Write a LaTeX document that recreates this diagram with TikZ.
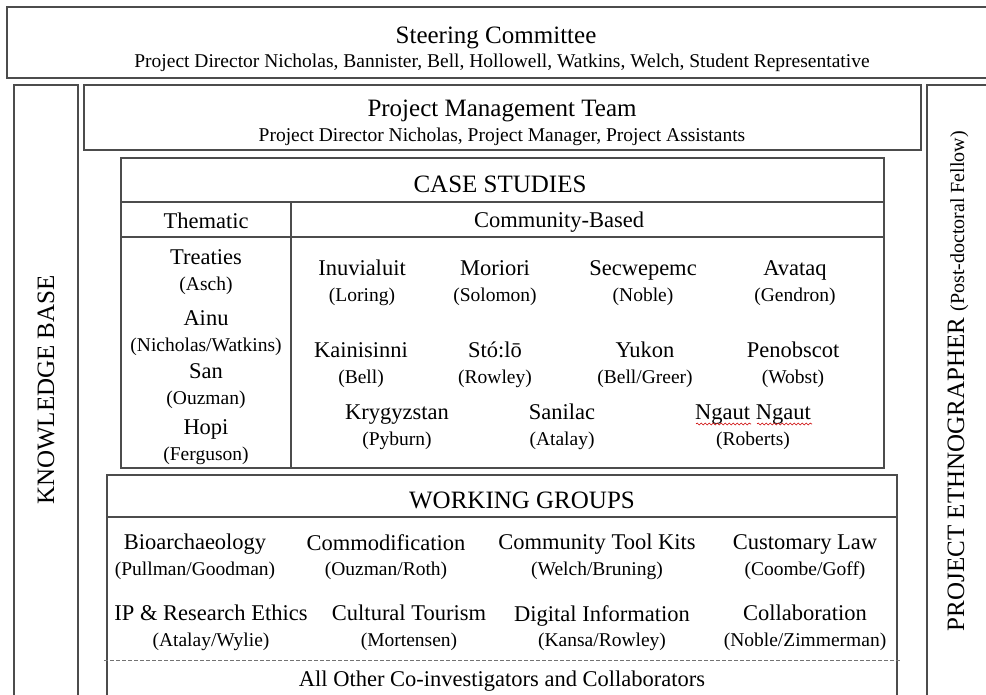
\documentclass[tikz,border=0pt]{standalone}
\usepackage{fontspec}
\setmainfont{Liberation Serif}
\usetikzlibrary{positioning, calc, decorations.pathmorphing}

\newcommand{\who}[1]{{\fontsize{19.5}{22}\selectfont #1}}

\begin{document}
\begin{tikzpicture}[
  x=1pt, y=-1pt,
  frame/.style   = {draw=black!70, line width=1.1pt, inner sep=0pt},
  rule/.style    = {draw=black!70, line width=1.1pt},
  dotrule/.style = {draw=black!55, line width=1pt, dash pattern=on 3.5pt off 2.5pt},
  vhead/.style   = {font=\fontsize{25}{28}\selectfont, inner sep=0pt, rotate=90},
  head/.style    = {font=\fontsize{25}{28}\selectfont, inner sep=0pt, yshift=-3pt},
  sub/.style     = {font=\fontsize{19.5}{22}\selectfont, inner sep=0pt, yshift=-3pt},
  entry/.style   = {align=center, font=\fontsize{22.5}{25.5}\selectfont, inner sep=0pt,
                    yshift=-3pt},
  squiggle/.style= {draw=red!80!black, line width=0.6pt,
                    decorate, decoration={snake, segment length=4pt, amplitude=1pt}},
]
\useasboundingbox (0,0) rectangle (986,694);

% ---- outer frames -----------------------------------------------------------
\node[frame, minimum width=985pt, minimum height=71pt] (steer) at (499.5,42.5) {};
\node[frame, minimum width=64pt, minimum height=615pt] (kb) at (46,392.5) {};
\node[frame, minimum width=837pt, minimum height=65pt] (pmt) at (502.5,117.5) {};
\node[frame, minimum width=68pt, minimum height=615pt] (eth) at (961,392.5) {};

\node[head] (steerT) at (496,35) {Steering Committee};
\node[sub]  (steerS) at (502,60)
  {Project Director Nicholas, Bannister, Bell, Hollowell, Watkins, Welch, Student Representative};

\node[head] (pmtT) at (502,108) {Project Management Team};
\node[sub]  (pmtS) at (502,134) {Project Director Nicholas, Project Manager, Project Assistants};

\node[vhead] (kbT) at (46,390) {KNOWLEDGE BASE};
\node[vhead] (ethT) at (958,381)
  {PROJECT ETHNOGRAPHER \fontsize{20}{22}\selectfont(Post-doctoral Fellow)};

% ---- case studies -----------------------------------------------------------
\node[frame, minimum width=763pt, minimum height=310pt] (cs) at (502.5,313) {};
\coordinate (csA) at (0,202);
\coordinate (csB) at (0,237);
\coordinate (csV) at (291,0);
\draw[rule] (cs.west |- csA) -- (cs.east |- csA);
\draw[rule] (cs.west |- csB) -- (cs.east |- csB);
\draw[rule] (csV |- csA) -- (csV |- cs.south);

\node[head] (csT) at (500,181) {CASE STUDIES};
\node[entry] (them) at (206,218) {Thematic};
\node[entry] (comm) at (559,219) {Community-Based};

% thematic column
\node[entry] (treaties) at (206,269) {Treaties\\\who{(Asch)}};
\node[entry] (ainu)     at (206,330) {Ainu\\\who{(Nicholas/Watkins)}};
\node[entry] (san)      at (206,383) {San\\\who{(Ouzman)}};
\node[entry] (hopi)     at (206,439) {Hopi\\\who{(Ferguson)}};

% community-based column
\node[entry] (inuv)  at (362,280) {Inuvialuit\\\who{(Loring)}};
\node[entry] (mori)  at (495,280) {Moriori\\\who{(Solomon)}};
\node[entry] (secw)  at (643,280) {Secwepemc\\\who{(Noble)}};
\node[entry] (avat)  at (795,280) {Avataq\\\who{(Gendron)}};
\node[entry] (kain)  at (361,362) {Kainisinni\\\who{(Bell)}};
\node[entry] (stolo) at (495,362) {Stó:lō\\\who{(Rowley)}};
\node[entry] (yukon) at (645,362) {Yukon\\\who{(Bell/Greer)}};
\node[entry] (penob) at (793,362) {Penobscot\\\who{(Wobst)}};
\node[entry] (kryg)  at (397,424) {Krygyzstan\\\who{(Pyburn)}};
\node[entry] (sanil) at (562,424) {Sanilac\\\who{(Atalay)}};
\node[entry] (ngaut) at (753,424) {Ngaut Ngaut\\\who{(Roberts)}};
\draw[squiggle] (696,424) -- (751,424);
\draw[squiggle] (757,424) -- (812,424);

% ---- working groups ---------------------------------------------------------
\node[frame, minimum width=790pt, minimum height=225pt] (wg) at (502,587.5) {};
\coordinate (wgA) at (0,517);
\coordinate (wgB) at (0,660);
\draw[rule] (wg.west |- wgA) -- (wg.east |- wgA);
\draw[dotrule] ([xshift=-2pt]wg.west |- wgB) -- ([xshift=2pt]wg.east |- wgB);

\node[head] (wgT) at (522,497) {WORKING GROUPS};

\node[entry] (bio)   at (195,554) {Bioarchaeology\\\who{(Pullman/Goodman)}};
\node[entry] (commo) at (386,554) {Commodification\\\who{(Ouzman/Roth)}};
\node[entry] (tool)  at (597,554) {Community Tool Kits\\\who{(Welch/Bruning)}};
\node[entry] (law)   at (805,554) {Customary Law\\\who{(Coombe/Goff)}};
\node[entry] (ipre)  at (211,625) {IP \& Research Ethics\\\who{(Atalay/Wylie)}};
\node[entry] (tour)  at (409,625) {Cultural Tourism\\\who{(Mortensen)}};
\node[entry] (digi)  at (602,625) {Digital Information\\\who{(Kansa/Rowley)}};
\node[entry] (collab) at (805,625) {Collaboration\\\who{(Noble/Zimmerman)}};

\node[entry] (others) at (502,678) {All Other Co-investigators and Collaborators};

\end{tikzpicture}
\end{document}
